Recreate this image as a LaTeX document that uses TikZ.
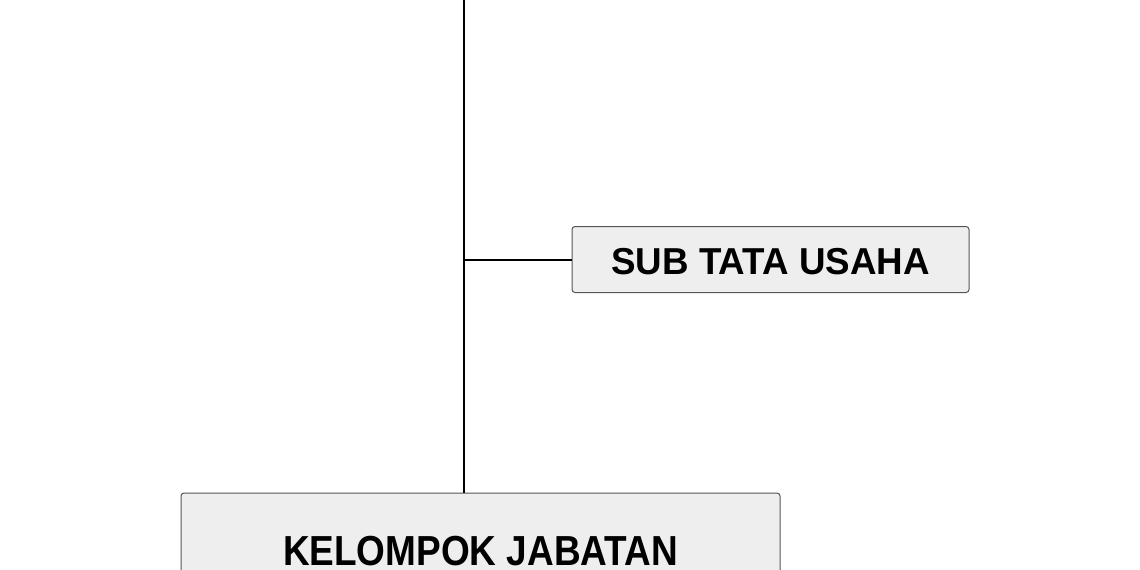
\documentclass[tikz,border=0pt]{standalone}
\usepackage{fontspec}
\setmainfont{Liberation Sans}
\definecolor{boxfill}{HTML}{EEEEEE}
\definecolor{boxline}{HTML}{555555}
\tikzset{
  orgbox/.style={draw=boxline, fill=boxfill, line width=1pt, rounded corners=3pt,
    inner sep=0pt, text depth=0pt},
  link/.style={draw=black, line width=2pt}
}
\begin{document}
\begin{tikzpicture}[x=1pt,y=-1pt]
\useasboundingbox (0,0) rectangle (1140,570);
\clip (0,0) rectangle (1140,570);
\fill[white] (0,0) rectangle (1140,570);
\coordinate (top) at (463.5,-5);
\node[orgbox, minimum width=397pt, minimum height=66pt, text height=30pt,
      font=\fontsize{37.5}{40}\selectfont\bfseries] (sub) at (770.5,259.5)
      {\scalebox{0.98}[1]{SUB TATA USAHA}};
\node[orgbox, minimum width=599pt, minimum height=114pt, text height=30pt,
      font=\fontsize{42}{46}\selectfont\bfseries] (kj) at (480.5,550)
      {\scalebox{0.88}[1]{KELOMPOK JABATAN}};
\draw[link] (top) -- (top |- kj.north);
\draw[link] (top |- sub.west) -- (sub.west);
\end{tikzpicture}
\end{document}
